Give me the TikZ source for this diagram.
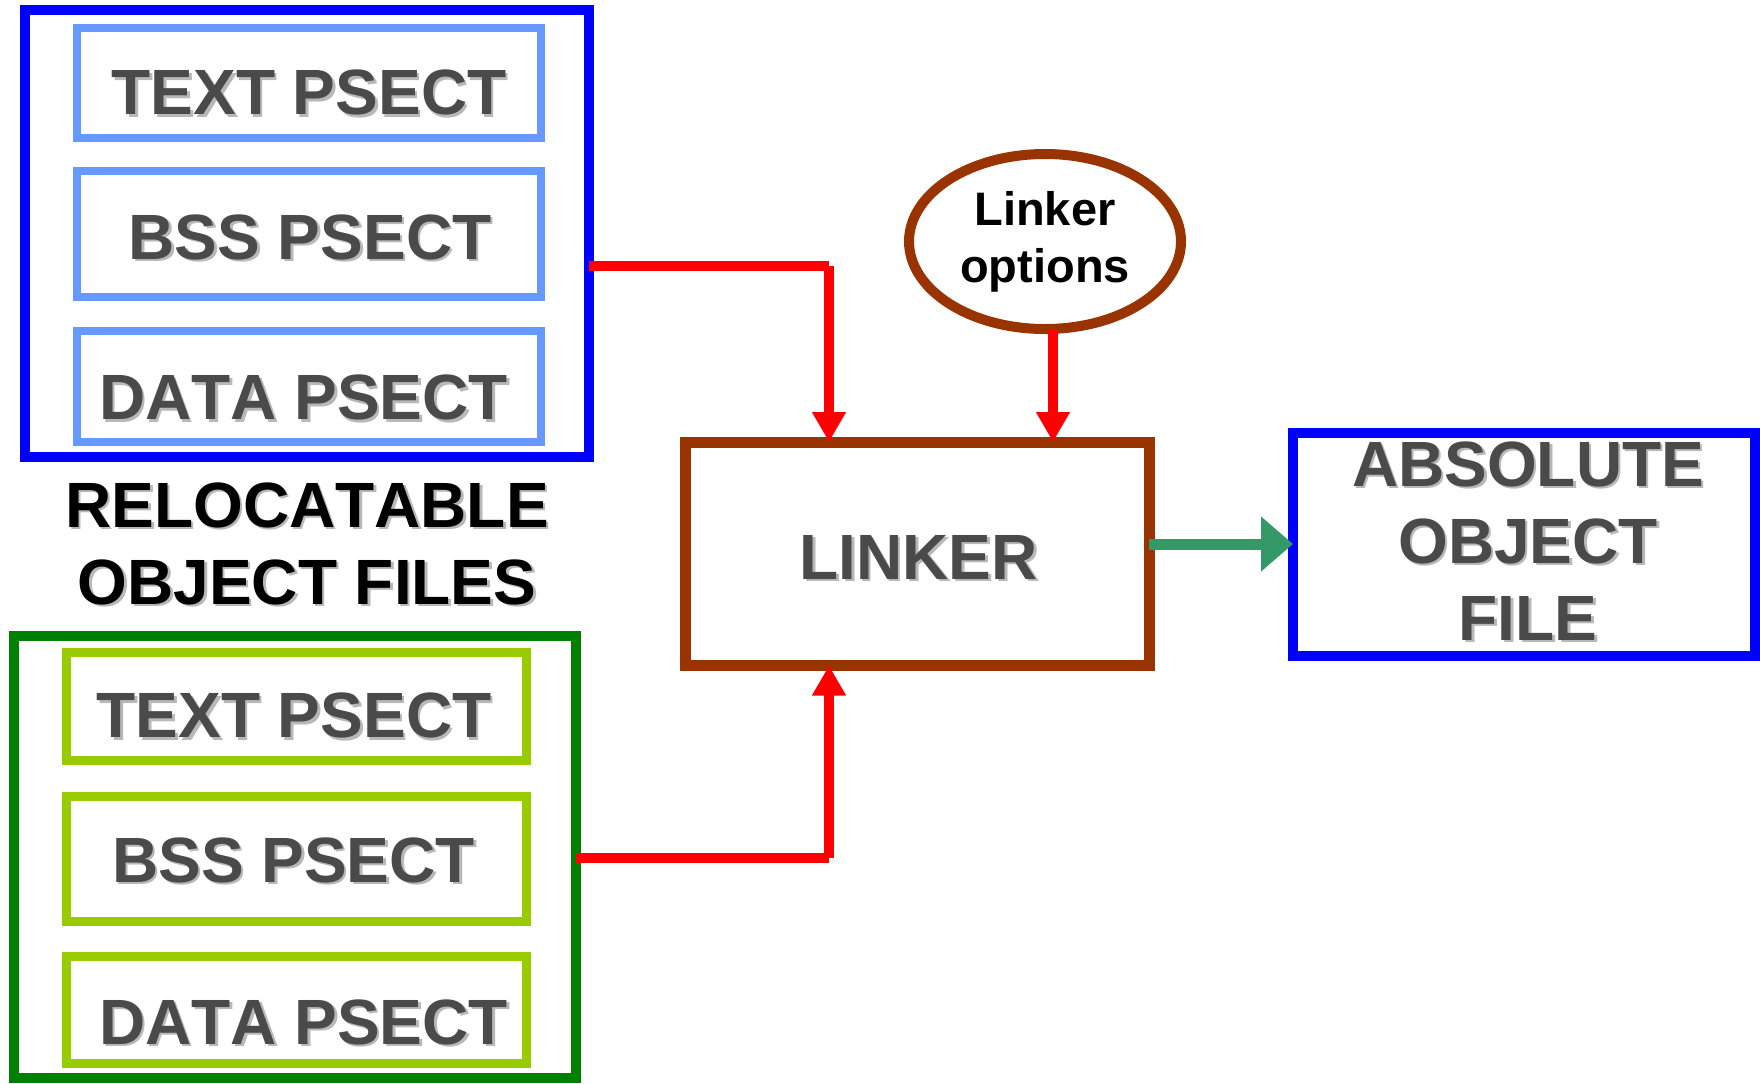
\documentclass[tikz,border=0pt]{standalone}
\usepackage{fontspec}
\setmainfont{Liberation Sans}[Kerning=Off]
\usetikzlibrary{arrows.meta,shapes.geometric}

\definecolor{boxblue}{HTML}{0000FF}
\definecolor{sectblue}{HTML}{6699FF}
\definecolor{linkbrown}{HTML}{993300}
\definecolor{filegreen}{HTML}{008000}
\definecolor{sectgreen}{HTML}{99CC00}
\definecolor{flowred}{HTML}{FF0000}
\definecolor{outgreen}{HTML}{339966}
\definecolor{textgray}{HTML}{4A4A4A}
\definecolor{shadowgray}{HTML}{B8B8B8}

% text with a soft drop shadow below and to the right
\newcommand\shadowed[1]{\makebox[0pt][l]{\hspace*{1.3pt}\raisebox{-1.3pt}{\textcolor{shadowgray}{#1}}}#1}

\begin{document}
\begin{tikzpicture}[x=0.5pt,y=-0.5pt,
  frame/.style={draw, rectangle, inner sep=0pt, outer sep=0pt},
  filebox/.style={frame, draw=boxblue, line width=5pt},
  sectbox/.style={frame, draw=sectblue, line width=4pt},
  greenfile/.style={frame, draw=filegreen, line width=5pt},
  greensect/.style={frame, draw=sectgreen, line width=4.5pt},
  linkbox/.style={frame, draw=linkbrown, line width=5.5pt},
  bigtext/.style={font=\fontsize{32pt}{38.5pt}\selectfont\bfseries, text=textgray, inner sep=0pt, outer sep=0pt},
  sectlabel/.style={bigtext, anchor=base},
  redline/.style={draw=flowred, line width=5pt},
  inflow/.style={redline, -{Triangle[width=16pt,length=15pt]}},
  outflow/.style={draw=outgreen, line width=5.5pt, -{Triangle[width=26.5pt,length=16pt]}}]

  \fill[white] (0,0) rectangle (1760,1083);
  \useasboundingbox (0,0) rectangle (1760,1083);

  % first relocatable object file
  \node[filebox, minimum width=282pt, minimum height=223.5pt] (relA) at (307,233.5) {};
  \node[sectbox, minimum width=232pt, minimum height=55pt]   (textA) at (309,82.5) {};
  \node[sectbox, minimum width=232pt, minimum height=63pt]   (bssA)  at (309,234) {};
  \node[sectbox, minimum width=232pt, minimum height=55.5pt] (dataA) at (309,386) {};
  \node[sectlabel] (textAl) at (309,114.5) {\shadowed{TEXT PSECT}};
  \node[sectlabel] (bssAl)  at (310,259.3) {\shadowed{BSS PSECT}};
  \node[sectlabel] (dataAl) at (303.5,419.8) {\shadowed{DATA PSECT}};

  % caption between the two files
  \node[bigtext, text=black, align=center] (caption) at (307,545)
    {\shadowed{RELOCATABLE}\\\shadowed{OBJECT FILES}};

  % second relocatable object file
  \node[greenfile, minimum width=281.25pt, minimum height=221.25pt] (relB) at (294.75,856.75) {};
  \node[greensect, minimum width=230pt, minimum height=54pt]   (textB) at (296,706) {};
  \node[greensect, minimum width=230pt, minimum height=62.5pt] (bssB)  at (296,858.5) {};
  \node[greensect, minimum width=230pt, minimum height=53.5pt] (dataB) at (296,1009.5) {};
  \node[sectlabel] (textBl) at (294,737.4) {\shadowed{TEXT PSECT}};
  \node[sectlabel] (bssBl)  at (293.5,882) {\shadowed{BSS PSECT}};
  \node[sectlabel] (dataBl) at (303.5,1044) {\shadowed{DATA PSECT}};

  % linker, its options and the result
  \node[linkbox, minimum width=232pt, minimum height=111.75pt] (linker) at (917,553.75) {};
  \node[sectlabel] (linkerl) at (918.5,579) {\shadowed{LINKER}};

  \node[draw=linkbrown, line width=5pt, ellipse, inner sep=0pt, outer sep=0pt,
        minimum width=136pt, minimum height=87.5pt, align=center,
        font=\fontsize{23.5pt}{28.5pt}\selectfont\bfseries] (opts) at (1045,241.5)
    {Linker\\options};

  \node[filebox, minimum width=231pt, minimum height=111.5pt] (absf) at (1524,544) {};
  \node[bigtext, align=center] (absfl) at (1528,542)
    {\shadowed{ABSOLUTE}\\\shadowed{OBJECT}\\\shadowed{FILE}};

  % connector bends
  \coordinate (turnA) at (829,266);
  \coordinate (turnB) at (829,858);
  \coordinate (optx)  at (1053,0);

  \draw[redline] (relA.east |- turnA) -- (turnA);
  \draw[inflow] (turnA) -- (turnA |- linker.north);
  \draw[inflow] (opts.south -| optx) -- (linker.north -| optx);
  \draw[redline] (relB.east |- turnB) -- (turnB);
  \draw[inflow] (turnB) -- (turnB |- linker.south);
  \draw[outflow] (linker.east |- absf.west) -- (absf.west);
\end{tikzpicture}
\end{document}
